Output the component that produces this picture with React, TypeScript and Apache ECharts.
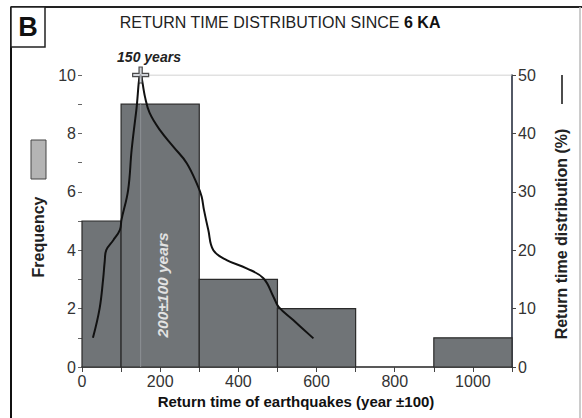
import React, { useEffect, useRef } from "react";
import * as echarts from "echarts";

// Histogram bins: [start year, end year, frequency]
const binStarts = [0, 100, 300, 500, 900];
const binEnds = [100, 300, 500, 700, 1100];
const frequencies = [5, 9, 3, 2, 1];

// Return time distribution curve (year, %)
const curveYears = [28, 45, 54, 58, 62, 80, 97, 101, 118, 127, 139, 150, 161, 173, 199, 234, 268, 297, 306, 312, 323, 336, 370, 421, 464, 490, 503, 541, 592];
const curvePercent = [5, 10, 15, 18, 20, 21.7, 23.5, 25.2, 30.3, 37.2, 44, 50, 46.3, 43.5, 40.6, 37.7, 34.9, 30.9, 29.2, 26.9, 23.5, 20, 18.3, 16.9, 15.2, 12, 10.3, 8, 4.9];

const xTicks = [0, 200, 400, 600, 800, 1000];
const leftTicks = [0, 2, 4, 6, 8, 10];
const peakYear = 150;
const peakFreq = 10;

const FONT = "Liberation Sans, Arial, sans-serif";

export default function App() {
  const ref = useRef<HTMLDivElement>(null);
  useEffect(() => {
    if (!ref.current) return;
    const chart = echarts.init(ref.current, null, { renderer: "svg" });
    const bars = binStarts.map((s, i) => [s, binEnds[i], frequencies[i]]);
    const curve = curveYears.map((x, i) => [x, curvePercent[i]]);
    const plusPath = "path://M4,0 L6,0 L6,4 L10,4 L10,6 L6,6 L6,10 L4,10 L4,6 L0,6 L0,4 L4,4 Z";
    chart.setOption({
      animation: false,
      backgroundColor: "#ffffff",
      textStyle: { fontFamily: FONT },
      grid: { left: 82, right: 70, top: 75, bottom: 51 },
      xAxis: {
        type: "value",
        min: 0,
        max: 1100,
        interval: 100,
        splitLine: { show: false },
        axisLine: { show: true, lineStyle: { color: "#222", width: 1.5 } },
        axisTick: { show: true, length: 5, lineStyle: { color: "#444" } },
        axisLabel: {
          color: "#333",
          fontSize: 16,
          fontFamily: FONT,
          margin: 6,
          formatter: (v: number) => (xTicks.includes(v) ? String(v) : ""),
        },
      },
      yAxis: [
        {
          type: "value",
          min: 0,
          max: 10,
          interval: 1,
          splitLine: { show: false },
          axisLine: { show: false },
          axisTick: { show: true, length: 4, lineStyle: { color: "#666" } },
          axisLabel: {
            color: "#333",
            fontSize: 16,
            fontFamily: FONT,
            margin: 6,
            formatter: (v: number) => (leftTicks.includes(v) ? String(v) : ""),
          },
        },
        {
          type: "value",
          min: 0,
          max: 50,
          interval: 10,
          position: "right",
          splitLine: { show: false },
          axisLine: { show: true, lineStyle: { color: "#1a2233", width: 1.5 } },
          axisTick: { show: true, length: 4, lineStyle: { color: "#444" } },
          axisLabel: { color: "#333", fontSize: 16, fontFamily: FONT, margin: 6 },
        },
      ],
      series: [
        {
          type: "custom",
          yAxisIndex: 0,
          data: bars,
          z: 2,
          renderItem: (params: any, api: any) => {
            const p0 = api.coord([api.value(0), api.value(2)]);
            const p1 = api.coord([api.value(1), 0]);
            return {
              type: "rect",
              shape: { x: p0[0], y: p0[1], width: p1[0] - p0[0], height: p1[1] - p0[1] },
              style: { fill: "#707477", stroke: "#2a2a2a", lineWidth: 1.2 },
            };
          },
        },
        {
          type: "line",
          yAxisIndex: 0,
          data: [[peakYear, 0], [peakYear, frequencies[1]]],
          symbol: "none",
          z: 3,
          lineStyle: { color: "#8c9094", width: 1 },
        },
        {
          type: "line",
          yAxisIndex: 0,
          data: [[peakYear, peakFreq], [1100, peakFreq]],
          symbol: "none",
          z: 3,
          lineStyle: { color: "#c4c4c4", width: 1.2 },
        },
        {
          type: "line",
          yAxisIndex: 1,
          data: curve,
          smooth: 0.4,
          symbol: "none",
          z: 5,
          lineStyle: { color: "#111", width: 2 },
        },
        {
          type: "scatter",
          yAxisIndex: 0,
          data: [[peakYear, peakFreq]],
          symbol: plusPath,
          symbolSize: 16,
          z: 6,
          itemStyle: { color: "#c8ccd2", borderColor: "#222", borderWidth: 1.2 },
        },
      ],
      graphic: [
        { type: "line", z: 100, shape: { x1: 11, y1: 7, x2: 11, y2: 418 }, style: { stroke: "#111", lineWidth: 2 } },
        { type: "line", z: 100, shape: { x1: 11, y1: 7, x2: 582, y2: 7 }, style: { stroke: "#222", lineWidth: 2 } },
        { type: "line", z: 100, shape: { x1: 580, y1: 7, x2: 580, y2: 418 }, style: { stroke: "#bbb", lineWidth: 1.5 } },
        { type: "rect", z: 100, shape: { x: 11, y: 7, width: 34, height: 40 }, style: { fill: "#fff", stroke: "#222", lineWidth: 1.5 } },
        {
          type: "text",
          z: 101,
          x: 28,
          y: 27,
          style: { text: "B", fontSize: 27, fontWeight: "bold", fontFamily: FONT, fill: "#111", align: "center", verticalAlign: "middle" },
        },
        {
          type: "text",
          z: 100,
          x: 280,
          y: 22,
          style: {
            text: "{n|RETURN TIME DISTRIBUTION SINCE }{b|6 KA}",
            align: "center",
            verticalAlign: "middle",
            rich: {
              n: { fontSize: 16, fontFamily: FONT, fill: "#222" },
              b: { fontSize: 16, fontFamily: FONT, fontWeight: "bold", fill: "#111" },
            },
          },
        },
        {
          type: "text",
          z: 100,
          x: 149,
          y: 57,
          style: { text: "150 years", fontSize: 14, fontWeight: "bold", fontStyle: "italic", fontFamily: FONT, fill: "#222", align: "center", verticalAlign: "middle" },
        },
        {
          type: "text",
          z: 100,
          x: 162,
          y: 285,
          rotation: Math.PI / 2,
          style: { text: "200±100 years", fontSize: 15.5, fontWeight: "bold", fontStyle: "italic", fontFamily: FONT, fill: "#e2e2e2", align: "center", verticalAlign: "middle" },
        },
        { type: "rect", z: 100, shape: { x: 31, y: 140, width: 15, height: 39 }, style: { fill: "#b4b4b4", stroke: "#444", lineWidth: 1 } },
        {
          type: "text",
          z: 100,
          x: 38,
          y: 237,
          rotation: Math.PI / 2,
          style: { text: "Frequency", fontSize: 16, fontWeight: "bold", fontFamily: FONT, fill: "#222", align: "center", verticalAlign: "middle" },
        },
        {
          type: "text",
          z: 100,
          x: 561,
          y: 234,
          rotation: Math.PI / 2,
          style: { text: "Return time distribution (%)", fontSize: 16, fontWeight: "bold", fontFamily: FONT, fill: "#222", align: "center", verticalAlign: "middle" },
        },
        { type: "line", z: 100, shape: { x1: 562, y1: 75, x2: 562, y2: 104 }, style: { stroke: "#111", lineWidth: 1.5 } },
        {
          type: "text",
          z: 100,
          x: 296,
          y: 401,
          style: { text: "Return time of earthquakes (year ±100)", fontSize: 15, fontWeight: "bold", fontFamily: FONT, fill: "#111", align: "center", verticalAlign: "middle" },
        },
      ],
    });
    return () => chart.dispose();
  }, []);
  return <div ref={ref} style={{ width: 582, height: 418, position: "absolute", left: 0, top: 0 }} />;
}
